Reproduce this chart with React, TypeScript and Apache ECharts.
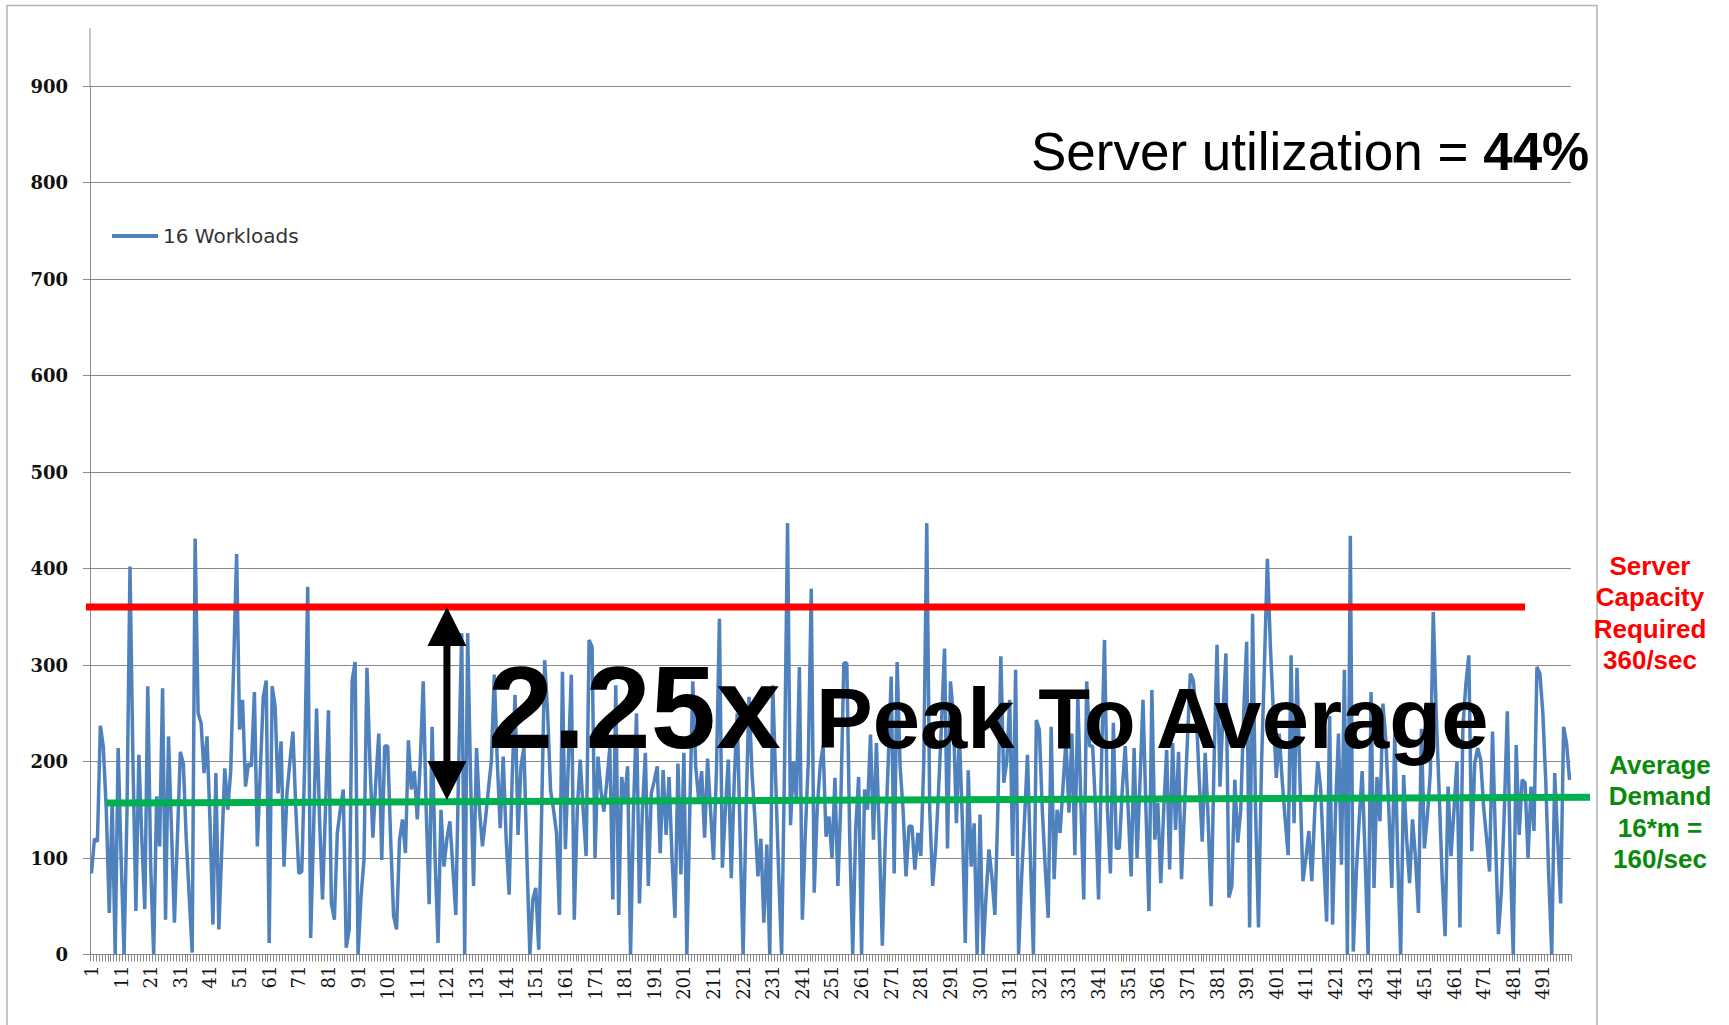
import React, { useEffect, useRef } from "react";
import * as echarts from "echarts";

// ---------- data ----------
const categories: string[] = Array.from({ length: 500 }, (_, i) => String(i + 1));

const workloads16: number[] = [
  84, 120, 117, 237, 215, 150, 43, 160, 0, 214,
  100, 0, 150, 402, 200, 45, 207, 120, 47, 278,
  90, 0, 164, 112, 276, 36, 226, 130, 33, 120,
  210, 198, 120, 60, 2, 431, 250, 240, 188, 226,
  140, 31, 188, 26, 110, 193, 150, 190, 300, 415,
  233, 264, 174, 198, 195, 272, 112, 190, 267, 284,
  12, 278, 257, 167, 221, 91, 167, 200, 231, 150,
  84, 86, 200, 381, 17, 130, 255, 140, 57, 150,
  253, 53, 36, 126, 150, 171, 7, 26, 284, 303,
  0, 60, 98, 297, 200, 121, 180, 229, 98, 216,
  216, 120, 40, 26, 119, 140, 105, 222, 171, 190,
  140, 200, 283, 150, 52, 236, 100, 12, 150, 91,
  120, 138, 90, 41, 200, 333, 0, 333, 180, 71,
  214, 150, 112, 140, 171, 200, 290, 200, 131, 205,
  120, 62, 180, 269, 124, 195, 215, 100, 0, 57,
  69, 5, 150, 305, 250, 170, 150, 126, 41, 293,
  109, 200, 290, 36, 150, 202, 150, 102, 326, 319,
  100, 205, 170, 148, 180, 214, 57, 279, 41, 184,
  160, 195, 0, 150, 250, 53, 150, 209, 71, 167,
  180, 195, 105, 191, 124, 184, 100, 38, 198, 83,
  209, 0, 150, 283, 195, 160, 190, 121, 203, 150,
  98, 191, 348, 90, 150, 202, 79, 180, 250, 120,
  0, 150, 267, 188, 140, 81, 120, 33, 114, 0,
  279, 180, 84, 0, 200, 447, 134, 200, 160, 298,
  36, 126, 200, 379, 64, 150, 195, 216, 122, 143,
  100, 183, 71, 160, 302, 302, 120, 0, 130, 184,
  0, 171, 150, 228, 119, 219, 120, 9, 120, 200,
  288, 84, 303, 195, 150, 81, 133, 133, 88, 126,
  102, 200, 447, 150, 71, 110, 171, 240, 317, 110,
  283, 247, 136, 229, 140, 12, 191, 91, 136, 0,
  145, 0, 60, 109, 80, 41, 150, 309, 178, 200,
  264, 102, 295, 0, 78, 140, 207, 100, 0, 243,
  233, 150, 90, 38, 236, 78, 150, 126, 174, 222,
  147, 229, 103, 267, 160, 57, 283, 216, 216, 150,
  57, 200, 326, 150, 84, 240, 110, 110, 170, 216,
  150, 81, 214, 100, 180, 264, 150, 45, 274, 119,
  157, 74, 150, 212, 88, 219, 129, 210, 78, 150,
  222, 291, 284, 250, 180, 117, 209, 140, 50, 200,
  321, 174, 250, 312, 59, 71, 181, 116, 150, 250,
  324, 28, 353, 150, 28, 195, 300, 410, 320, 253,
  183, 229, 180, 140, 103, 310, 136, 297, 180, 76,
  100, 128, 76, 150, 200, 171, 100, 34, 247, 31,
  150, 229, 93, 295, 0, 434, 3, 84, 140, 190,
  100, 0, 272, 69, 184, 138, 260, 222, 150, 69,
  229, 100, 0, 186, 120, 74, 140, 100, 43, 234,
  110, 143, 188, 355, 250, 167, 80, 19, 174, 102,
  150, 200, 28, 236, 280, 310, 107, 198, 214, 202,
  153, 120, 86, 231, 120, 21, 66, 150, 252, 100,
  0, 217, 124, 181, 178, 100, 174, 128, 298, 291,
  250, 178, 80, 0, 188, 120, 53, 236, 219, 181,
];

const seriesName = "16 Workloads";
const capacityRequired = 360;
const averageDemandStart = 157;
const averageDemandEnd = 163;
const arrowTop = 360;
const arrowBottom = 160;
const arrowCategoryIndex = 120;
const capacityLineEndIndex = 484;
const demandLineStartIndex = 5;

const titleText = "Server utilization = ";
const titleBold = "44%";
const ratioText = "2.25x";
const ratioCaption = "Peak To Average";
const capacityLabel = ["Server", "Capacity", "Required", "360/sec"];
const demandLabel = ["Average", "Demand", "16*m =", "160/sec"];

const GRID_LEFT = 90;
const GRID_RIGHT = 158;
const W = 1729;
const H = 1025;

export default function App() {
  const ref = useRef<HTMLDivElement>(null);

  useEffect(() => {
    if (!ref.current) return;
    const chart = echarts.init(ref.current, null, { renderer: "svg" });
    const gray = "#8a8a8a";
    chart.setOption({
      animation: false,
      backgroundColor: "#ffffff",
      grid: { left: GRID_LEFT, right: GRID_RIGHT, top: 86, bottom: 70.5, containLabel: false },
      legend: {
        show: true,
        left: 107,
        top: 221,
        icon: "rect",
        itemWidth: 46,
        itemHeight: 4,
        data: [seriesName],
        textStyle: { fontFamily: "DejaVu Sans", fontSize: 20, color: "#333333" },
      },
      xAxis: {
        type: "category",
        data: categories,
        boundaryGap: true,
        axisLine: { show: true, lineStyle: { color: gray, width: 1 } },
        axisTick: { show: true, interval: 0, length: 7, lineStyle: { color: gray, width: 1 } },
        axisLabel: {
          interval: 9,
          rotate: 90,
          margin: 11,
          fontFamily: "DejaVu Serif",
          fontSize: 18,
          color: "#111111",
        },
        splitLine: { show: false },
      },
      yAxis: {
        type: "value",
        min: 0,
        max: 900,
        interval: 100,
        axisLine: { show: true, lineStyle: { color: gray, width: 1 } },
        axisTick: { show: true, length: 7, lineStyle: { color: gray } },
        axisLabel: {
          margin: 22,
          fontFamily: "DejaVu Serif",
          fontWeight: "bold",
          fontSize: 18,
          color: "#111111",
        },
        splitLine: { show: true, lineStyle: { color: gray, width: 1 } },
      },
      series: [
        {
          type: "line",
          name: seriesName,
          data: workloads16,
          symbol: "none",
          showSymbol: false,
          lineStyle: { color: "#4F81BD", width: 3.5 },
          itemStyle: { color: "#4F81BD" },
          z: 2,
        },
      ],
    });

    const py = (v: number) => chart.convertToPixel({ yAxisIndex: 0 }, v) as number;
    const px = (i: number) => chart.convertToPixel({ xAxisIndex: 0 }, i) as number;
    const gridRightX = W - GRID_RIGHT;

    const yCap = py(capacityRequired);
    const yTopAxis = py(900);
    const xArrow = px(arrowCategoryIndex);
    const yA1 = py(arrowTop);
    const yA2 = py(arrowBottom);
    const head = 39;
    const halfHead = 19.5;

    chart.setOption({
      graphic: [
        {
          type: "rect",
          shape: { x: 7, y: 5.5, width: 1590, height: 1030 },
          style: { fill: "none", stroke: "#b4b4b4", lineWidth: 1.5 },
          z: 0,
          silent: true,
        },
        {
          type: "line",
          shape: { x1: GRID_LEFT, y1: 28, x2: GRID_LEFT, y2: yTopAxis },
          style: { stroke: gray, lineWidth: 1 },
          z: 1,
        },
        {
          type: "line",
          shape: { x1: GRID_LEFT - 4, y1: yCap, x2: px(capacityLineEndIndex), y2: yCap },
          style: { stroke: "#FF0000", lineWidth: 7 },
          z: 50,
        },
        {
          type: "line",
          shape: {
            x1: px(demandLineStartIndex),
            y1: py(averageDemandStart),
            x2: gridRightX + 19,
            y2: py(averageDemandEnd),
          },
          style: { stroke: "#00B050", lineWidth: 7 },
          z: 50,
        },
        {
          type: "rect",
          shape: { x: xArrow - 3.5, y: yA1 + head - 4, width: 7, height: yA2 - yA1 - 2 * head + 8 },
          style: { fill: "#000000" },
          z: 60,
        },
        {
          type: "polygon",
          shape: { points: [[xArrow, yA1], [xArrow - halfHead, yA1 + head], [xArrow + halfHead, yA1 + head]] },
          style: { fill: "#000000" },
          z: 60,
        },
        {
          type: "polygon",
          shape: { points: [[xArrow, yA2], [xArrow - halfHead, yA2 - head], [xArrow + halfHead, yA2 - head]] },
          style: { fill: "#000000" },
          z: 60,
        },
        {
          type: "text",
          x: 1031,
          y: 151,
          style: {
            text: titleText + "{b|" + titleBold + "}",
            fontFamily: "Liberation Sans",
            fontSize: 53,
            fill: "#000000",
            align: "left",
            verticalAlign: "middle",
            rich: {
              b: { fontFamily: "Liberation Sans", fontSize: 53, fontWeight: "bold", fill: "#000000" },
            },
          },
          z: 70,
        },
        {
          type: "text",
          x: 488,
          y: 707,
          style: {
            text: ratioText,
            fontFamily: "Liberation Sans",
            fontWeight: "bold",
            fontSize: 117,
            fill: "#000000",
            align: "left",
            verticalAlign: "middle",
          },
          z: 70,
        },
        {
          type: "text",
          x: 816,
          y: 718,
          style: {
            text: ratioCaption,
            fontFamily: "Liberation Sans",
            fontWeight: "bold",
            fontSize: 85,
            fill: "#000000",
            align: "left",
            verticalAlign: "middle",
          },
          z: 70,
        },
        {
          type: "text",
          x: 1650,
          y: 550,
          style: {
            text: capacityLabel.join("\n"),
            fontFamily: "Liberation Sans",
            fontWeight: "bold",
            fontSize: 26,
            lineHeight: 31.5,
            fill: "#FF0000",
            align: "center",
            verticalAlign: "top",
          },
          z: 70,
        },
        {
          type: "text",
          x: 1660,
          y: 749,
          style: {
            text: demandLabel.join("\n"),
            fontFamily: "Liberation Sans",
            fontWeight: "bold",
            fontSize: 26,
            lineHeight: 31.5,
            fill: "#0A8A0A",
            align: "center",
            verticalAlign: "top",
          },
          z: 70,
        },
      ],
    });

    return () => {
      chart.dispose();
    };
  }, []);

  return (
    <div
      ref={ref}
      style={{ position: "fixed", left: 0, top: 0, width: W, height: H, background: "#ffffff" }}
    />
  );
}
